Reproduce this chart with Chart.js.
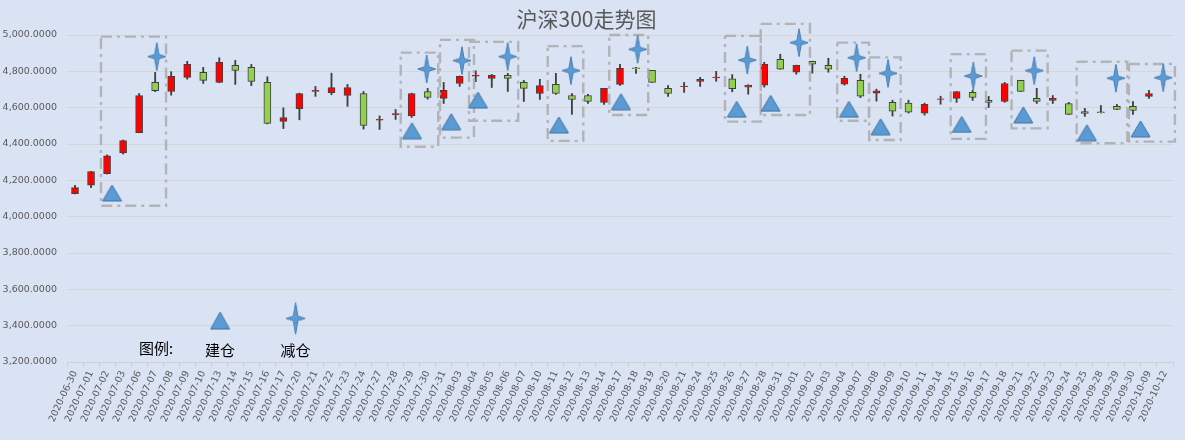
<!DOCTYPE html>
<html>
<head>
<meta charset="utf-8">
<script src="https://cdn.jsdelivr.net/npm/chart.js@4.4.1/dist/chart.umd.min.js"></script>
<style>
  html, body { margin: 0; padding: 0; background: #DAE3F3; }
  #wrap { width: 1185px; height: 440px; position: relative; background: #DAE3F3; }
</style>
</head>
<body>
<div id="wrap"><canvas id="c"></canvas></div>
<script>
// ---------- data ----------
const dates = ["2020-06-30","2020-07-01","2020-07-02","2020-07-03","2020-07-06","2020-07-07","2020-07-08","2020-07-09","2020-07-10","2020-07-13","2020-07-14","2020-07-15","2020-07-16","2020-07-17","2020-07-20","2020-07-21","2020-07-22","2020-07-23","2020-07-24","2020-07-27","2020-07-28","2020-07-29","2020-07-30","2020-07-31","2020-08-03","2020-08-04","2020-08-05","2020-08-06","2020-08-07","2020-08-10","2020-08-11","2020-08-12","2020-08-13","2020-08-14","2020-08-17","2020-08-18","2020-08-19","2020-08-20","2020-08-21","2020-08-24","2020-08-25","2020-08-26","2020-08-27","2020-08-28","2020-08-31","2020-09-01","2020-09-02","2020-09-03","2020-09-04","2020-09-07","2020-09-08","2020-09-09","2020-09-10","2020-09-11","2020-09-14","2020-09-15","2020-09-16","2020-09-17","2020-09-18","2020-09-21","2020-09-22","2020-09-23","2020-09-24","2020-09-25","2020-09-28","2020-09-29","2020-09-30","2020-10-09","2020-10-12"];
const openV  = [4127,4173,4237,4351,4463,4739,4689,4767,4794,4739,4833,4822,4739,4524,4594,4690,4682,4667,4678,4531,4562,4555,4689,4651,4733,4774,4761,4778,4739,4678,4728,4667,4667,4629,4728,4819,4805,4706,4715,4745,4765,4759,4713,4724,4866,4795,4855,4833,4729,4751,4680,4630,4625,4570,4645,4651,4684,4640,4634,4750,4651,4640,4623,4579,4577,4607,4607,4662,null];
const highV  = [4173,4250,4340,4422,4678,4794,4798,4855,4822,4875,4860,4838,4770,4599,4680,4717,4790,4728,4689,4555,4590,4680,4706,4739,4774,4803,4783,4789,4750,4756,4789,4678,4673,4706,4838,4822,4806,4722,4739,4767,4800,4782,4726,4850,4894,4834,4856,4872,4773,4784,4702,4641,4641,4625,4663,4689,4695,4662,4739,4751,4706,4667,4629,4596,4612,4618,4634,4695,null];
const lowV   = [4125,4160,4235,4345,4462,4688,4669,4757,4733,4737,4728,4721,4511,4485,4533,4662,4671,4607,4482,4480,4535,4546,4647,4623,4717,4743,4711,4689,4634,4645,4673,4563,4623,4618,4722,4789,4739,4662,4684,4717,4745,4687,4674,4713,4811,4784,4790,4795,4724,4655,4636,4554,4570,4559,4619,4629,4640,4601,4629,4688,4623,4623,4562,4552,4570,4589,4563,4651,null];
const closeV = [4160,4248,4335,4419,4667,4693,4772,4838,4750,4849,4805,4745,4513,4546,4678,4695,4711,4711,4502,4536,4567,4678,4656,4695,4772,4779,4778,4761,4706,4722,4678,4645,4634,4706,4816,4814,4739,4678,4719,4756,4769,4704,4724,4839,4812,4833,4839,4812,4762,4663,4693,4581,4575,4619,4649,4689,4656,4629,4733,4689,4634,4651,4563,4568,4573,4590,4585,4678,null];

// trade markers (x in category-index units)
const buyX  = [2.31,21.02,23.47,25.14,30.19,34.06,41.28,43.40,48.28,50.26,55.32,59.16,63.13,66.48];
const buyY  = [4130,4473,4523,4642,4505,4633,4591,4624,4591,4495,4508,4560,4462,4483];
const sellX = [5.10,21.94,24.14,26.99,30.94,35.10,41.94,45.17,48.76,50.72,56.04,59.84,64.94,67.89];
const sellY = [4881,4813,4859,4881,4804,4921,4862,4958,4875,4789,4774,4804,4762,4765];

// dashed trade windows
const boxX0 = [1.62,20.32,22.77,24.58,29.49,33.33,40.55,42.78,47.55,49.55,54.63,58.43,62.49,65.75];
const boxX1 = [5.68,22.66,24.89,27.65,31.71,35.76,42.78,45.85,49.53,51.51,56.83,60.68,65.65,68.62];
const boxTop = [4991,4903,4973,4962,4939,5000,4995,5061,4958,4877,4895,4914,4853,4840];
const boxBottom = [4060,4385,4435,4528,4417,4560,4523,4560,4528,4422,4428,4486,4404,4413];

// legend
const legendBuyPos = {x: 9.05, y: 3428};
const legendSellPos = {x: 13.76, y: 3440};
const legendTexts = ["图例:", "建仓", "减仓"];
const legendTextX = [5.05, 9.05, 13.76];
const legendTextY = [3277, 3266, 3266];

const titleText = "沪深300走势图";
const yMin = 3200, yMax = 5000, yStep = 200;

// ---------- marker images ----------
function makeStar(w, h) {
  const c = document.createElement('canvas');
  c.width = w + 4; c.height = h + 4;
  const g = c.getContext('2d');
  const cx = c.width / 2, cy = c.height / 2, rx = w / 2, ry = h / 2, ri = Math.min(w, h) * 0.12;
  g.beginPath();
  g.moveTo(cx, cy - ry);
  g.lineTo(cx + ri, cy - ri);
  g.lineTo(cx + rx, cy);
  g.lineTo(cx + ri, cy + ri);
  g.lineTo(cx, cy + ry);
  g.lineTo(cx - ri, cy + ri);
  g.lineTo(cx - rx, cy);
  g.lineTo(cx - ri, cy - ri);
  g.closePath();
  g.fillStyle = '#5B9BD5';
  g.fill();
  g.strokeStyle = '#4A7FB5';
  g.lineWidth = 1;
  g.stroke();
  return c;
}
function makeTri(w, h) {
  const c = document.createElement('canvas');
  c.width = w + 2; c.height = h + 2;
  const g = c.getContext('2d');
  g.beginPath();
  g.moveTo(c.width / 2, 1);
  g.lineTo(c.width - 1, c.height - 1);
  g.lineTo(1, c.height - 1);
  g.closePath();
  g.fillStyle = '#5B9BD5';
  g.fill();
  g.strokeStyle = '#41719C';
  g.lineWidth = 1;
  g.stroke();
  return c;
}
const starImg = makeStar(18, 28);
const starLegendImg = makeStar(19, 32);
const triImg = makeTri(19, 16);
const triLegendImg = makeTri(19, 17);

// ---------- derived datasets ----------
const bodyData = dates.map((d, i) => openV[i] == null ? null : [openV[i], closeV[i]]);
const wickData = dates.map((d, i) => lowV[i] == null ? null : [lowV[i], highV[i]]);
const bodyColors = dates.map((d, i) => (closeV[i] >= openV[i]) ? '#FF0000' : '#92D050');
const buyPts = buyX.map((x, i) => ({x, y: buyY[i]}));
const sellPts = sellX.map((x, i) => ({x, y: sellY[i]}));
const boxPts = [];
boxX0.forEach((x0, i) => {
  const x1 = boxX1[i], t = boxTop[i], b = boxBottom[i];
  boxPts.push({x: x0, y: t}, {x: x1, y: t}, {x: x1, y: b}, {x: x0, y: b}, {x: x0, y: t}, {x: x0, y: null});
});

const legendTextPlugin = {
  id: 'legendText',
  afterDatasetsDraw(chart) {
    const ctx = chart.ctx, sx = chart.scales.x2, sy = chart.scales.y;
    ctx.save();
    ctx.fillStyle = '#000000';
    ctx.font = '15px "Noto Sans CJK SC"';
    ctx.textAlign = 'center';
    ctx.textBaseline = 'middle';
    legendTexts.forEach((t, i) => {
      ctx.fillText(t, sx.getPixelForValue(legendTextX[i]), sy.getPixelForValue(legendTextY[i]));
    });
    ctx.restore();
  }
};

Chart.defaults.font.family = 'DejaVu Sans';
Chart.defaults.color = '#595959';

new Chart(document.getElementById('c'), {
  type: 'bar',
  data: {
    labels: dates,
    datasets: [
      { type: 'line', label: 'sell', xAxisID: 'x2', yAxisID: 'y', data: sellPts, showLine: false,
        pointStyle: starImg, pointRadius: 10, clip: false, order: 1 },
      { type: 'line', label: 'buy', xAxisID: 'x2', yAxisID: 'y', data: buyPts, showLine: false,
        pointStyle: triImg, pointRadius: 10, clip: false, order: 2 },
      { type: 'line', label: 'legendSell', xAxisID: 'x2', yAxisID: 'y', data: [legendSellPos], showLine: false,
        pointStyle: starLegendImg, pointRadius: 10, clip: false, order: 1 },
      { type: 'line', label: 'legendBuy', xAxisID: 'x2', yAxisID: 'y', data: [legendBuyPos], showLine: false,
        pointStyle: triLegendImg, pointRadius: 10, clip: false, order: 2 },
      { type: 'line', label: 'boxes', xAxisID: 'x2', yAxisID: 'y', data: boxPts, showLine: true, spanGaps: false,
        borderColor: 'rgba(170,170,170,0.85)', borderWidth: 2.4, borderDash: [11, 5, 3, 5], pointRadius: 0,
        fill: false, tension: 0, clip: false, order: 3 },
      { label: 'body', data: bodyData, xAxisID: 'x', yAxisID: 'y', grouped: false, barThickness: 7,
        backgroundColor: bodyColors, borderColor: '#404040', borderWidth: 1, borderSkipped: false, order: 4 },
      { label: 'wick', data: wickData, xAxisID: 'x', yAxisID: 'y', grouped: false, barThickness: 1.2,
        backgroundColor: '#404040', borderWidth: 0, order: 5 }
    ]
  },
  options: {
    responsive: true,
    maintainAspectRatio: false,
    animation: false,
    layout: { padding: { left: 0, right: 12, top: 0, bottom: 0 } },
    plugins: {
      legend: { display: false },
      tooltip: { enabled: false },
      title: {
        display: true, text: titleText, color: '#595959',
        font: { family: '"Noto Sans CJK SC"', size: 21, weight: 'normal', lineHeight: 1.2 },
        padding: { top: 6, bottom: 3.8 }
      }
    },
    scales: {
      x: {
        type: 'category',
        offset: true,
        grid: { display: true, drawOnChartArea: false, drawTicks: true, tickLength: 5, color: '#D0D0D0', offset: true },
        border: { display: true, color: '#D0D0D0' },
        ticks: { autoSkip: false, maxRotation: 65, minRotation: 65, padding: 2, color: '#595959',
          font: { family: 'DejaVu Sans', size: 9.5 } },
        afterFit(scale) { scale.height = 78; }
      },
      x2: { type: 'linear', display: false, offset: false, grid: { offset: false },
        min: -0.5, max: dates.length - 0.5, bounds: 'ticks' },
      y: {
        min: yMin, max: yMax,
        grid: { color: '#D6D6D6', drawTicks: false, lineWidth: 1 },
        border: { display: false },
        ticks: { stepSize: yStep, padding: 10, color: '#595959', font: { family: 'DejaVu Sans', size: 9.5 },
          callback: v => Number(v).toLocaleString('en-US', { minimumFractionDigits: 4, maximumFractionDigits: 4 }) },
        afterFit(scale) { scale.width = 67; }
      }
    }
  },
  plugins: [legendTextPlugin]
});
</script>
</body>
</html>
